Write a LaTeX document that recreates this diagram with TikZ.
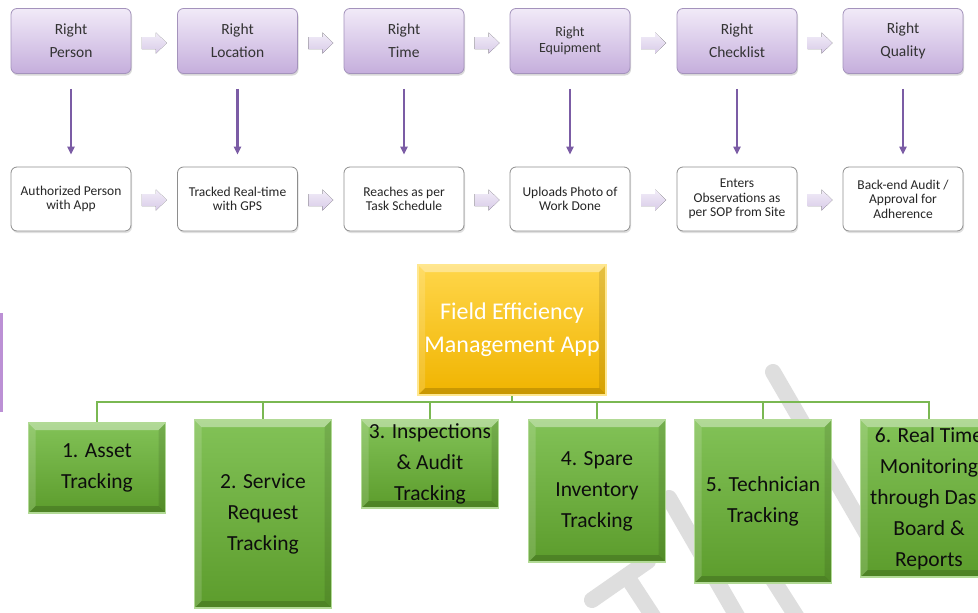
\documentclass[tikz,border=0pt]{standalone}
\usepackage{fontspec}
\setmainfont{Carlito}
\usetikzlibrary{arrows.meta,calc,shadows}

\definecolor{purpTop}{HTML}{F1EAF8}
\definecolor{purpBot}{HTML}{C5AEDC}
\definecolor{purpLine}{HTML}{A493BC}
\definecolor{purpArrow}{HTML}{7B5CA5}
\definecolor{chevTop}{HTML}{F2EDF8}
\definecolor{chevBot}{HTML}{D8CBE8}
\definecolor{stepText}{HTML}{333333}
\definecolor{noteLine}{HTML}{8E8E8E}
\definecolor{greenTop}{HTML}{82C257}
\definecolor{greenBot}{HTML}{5C9C2C}
\definecolor{greenEdge}{HTML}{B2DA96}
\definecolor{linkGreen}{HTML}{7AB852}
\definecolor{goldTop}{HTML}{FFD64A}
\definecolor{goldBot}{HTML}{F0B400}
\definecolor{goldEdge}{HTML}{FFE78F}
\definecolor{markGray}{HTML}{DEDEDE}
\definecolor{edgeViolet}{HTML}{A66BC8}

\tikzset{
  % purple "Right ..." boxes of the first row
  rightbox/.style={rounded corners=6pt, draw=purpLine, line width=0.8pt,
    top color=purpTop, bottom color=purpBot,
    minimum width=120pt, minimum height=65pt, inner sep=0pt,
    text=stepText, align=center,
    drop shadow={shadow xshift=1pt, shadow yshift=-2pt, opacity=0.25, fill=black!60},
    font=\fontsize{15.5}{23}\selectfont},
  % white result boxes of the second row
  notebox/.style={rounded corners=6pt, draw=noteLine, line width=0.8pt, fill=white,
    minimum width=120pt, minimum height=64pt, inner sep=0pt,
    text=black!85, align=center,
    drop shadow={shadow xshift=1pt, shadow yshift=-2pt, opacity=0.2, fill=black!60},
    font=\fontsize{13.5}{14.5}\selectfont},
  % purple arrow from a requirement to its result
  downarrow/.style={draw=purpArrow, line width=2.2pt,
    -{Triangle[length=8pt,width=7pt]}},
  % bevel overlay for the square boxes of the tree
  bevel/.style={path picture={
    \path (path picture bounding box.north west) coordinate (bnw)
          (path picture bounding box.south east) coordinate (bse);
    \fill[white,opacity=0.38] (bnw) -- (bnw -| bse) -- ([xshift=-7pt,yshift=-7pt]bnw -| bse)
         -- ([xshift=7pt,yshift=-7pt]bnw) -- cycle;
    \fill[white,opacity=0.15] (bnw) -- ([xshift=7pt,yshift=-7pt]bnw)
         -- ([xshift=7pt,yshift=7pt]bnw |- bse) -- (bnw |- bse) -- cycle;
    \fill[black,opacity=0.10] (bnw -| bse) -- (bse) -- ([xshift=-7pt,yshift=7pt]bse)
         -- ([xshift=-7pt,yshift=-7pt]bnw -| bse) -- cycle;
    \fill[black,opacity=0.16] (bnw |- bse) -- (bse) -- ([xshift=-7pt,yshift=7pt]bse)
         -- ([xshift=7pt,yshift=7pt]bnw |- bse) -- cycle;
  }},
  % green module boxes
  modbox/.style={draw=greenEdge, line width=1.5pt,
    top color=greenTop, bottom color=greenBot, bevel,
    minimum width=137pt, inner sep=0pt, text=black!95, align=center,
    font=\fontsize{21.5}{31}\selectfont},
  % golden root box
  rootbox/.style={draw=goldEdge, line width=2pt,
    top color=goldTop, bottom color=goldBot, bevel,
    minimum width=188pt, minimum height=130pt, inner sep=0pt,
    text=white, align=center, font=\fontsize{24}{33}\selectfont},
  link/.style={draw=linkGreen, line width=2.5pt},
  watermark/.style={draw=markGray, line width=16pt, line cap=round},
  % light block arrow between two neighbouring boxes
  chevron/.pic={
    \fill[top color=chevTop, bottom color=chevBot]
      (-12.5,-6) -- (1.5,-6) -- (1.5,-10.5) -- (12.5,0) -- (1.5,10.5)
      -- (1.5,6) -- (-12.5,6) -- cycle;
  }
}

\begin{document}
\begin{tikzpicture}[x=1pt,y=-1pt]
\useasboundingbox (0,0) rectangle (978,613);
\clip (0,0) rectangle (978,613);
\fill[white] (0,0) rectangle (978,613);

% faint strip on the left border
\fill[edgeViolet,opacity=0.75] (0,313) rectangle (2.5,412);

% watermark strokes behind the tree
\draw[watermark] (773,372) -- (875,548);
\draw[watermark] (669,498) -- (745,630);
\draw[watermark] (735,520) -- (805,630);
\draw[watermark] (592,600) -- (648,561);
\draw[watermark] (628,578) -- (662,630);

% ---- first row: requirements ----
\node[rightbox] (r1) at (71,41)    {Right\\Person};
\node[rightbox] (r2) at (237.5,41) {Right\\Location};
\node[rightbox] (r3) at (404,41)   {Right\\Time};
\node[rightbox, font=\fontsize{14}{16}\selectfont] (r4) at (570,41) {Right\\Equipment};
\node[rightbox] (r5) at (737,41)   {Right\\Checklist};
\node[rightbox] (r6) at (903,41)   {Right\\Quality};

% ---- second row: what is recorded ----
\node[notebox] (n1) at (71,199)    {Authorized Person\\with App};
\node[notebox] (n2) at (237.5,199) {Tracked Real-time\\with GPS};
\node[notebox] (n3) at (404,199)   {Reaches as per\\Task Schedule};
\node[notebox] (n4) at (570,199)   {Uploads Photo of\\Work Done};
\node[notebox] (n5) at (737,199)   {Enters\\Observations as\\per SOP from Site};
\node[notebox] (n6) at (903,199)   {Back-end Audit /\\Approval for\\Adherence};

% block arrows along both rows
\foreach \a/\b in {1/2,2/3,3/4,4/5,5/6}{
  \pic at ($(r\a.east)!0.5!(r\b.west)+(0,2)$) {chevron};
  \pic at ($(n\a.east)!0.5!(n\b.west)+(0,1)$) {chevron};
}

% arrows from each requirement to its result
\foreach \i in {1,...,6}{
  \draw[downarrow] ([yshift=-15pt]r\i.south) -- ([yshift=12pt]n\i.north);
}

% ---- module tree ----
\node[rootbox] (app) at (512,330) {Field Efficiency\\Management App};

\node[modbox, minimum height=90pt]  (m1) at (97,468)    {1. Asset\\Tracking};
\node[modbox, minimum height=188pt] (m2) at (263,514)   {2. Service\\Request\\Tracking};
\node[modbox, minimum height=88pt]  (m3) at (430,464)   {3. Inspections\\\& Audit\\Tracking};
\node[modbox, minimum height=142pt] (m4) at (597,491)   {4. Spare\\Inventory\\Tracking};
\node[modbox, minimum height=163pt] (m5) at (763,501.5) {5. Technician\\Tracking};
\node[modbox, minimum height=157pt] (m6) at (929,498.5) {6. Real Time\\Monitoring\\through Dash\\Board \&\\Reports};

\coordinate (bar) at ($(app.south)+(0,6)$);
\draw[link] (app.south) -- (bar);
\foreach \i in {1,...,6}{
  \draw[link] (bar) -| (m\i.north);
}
\end{tikzpicture}
\end{document}
